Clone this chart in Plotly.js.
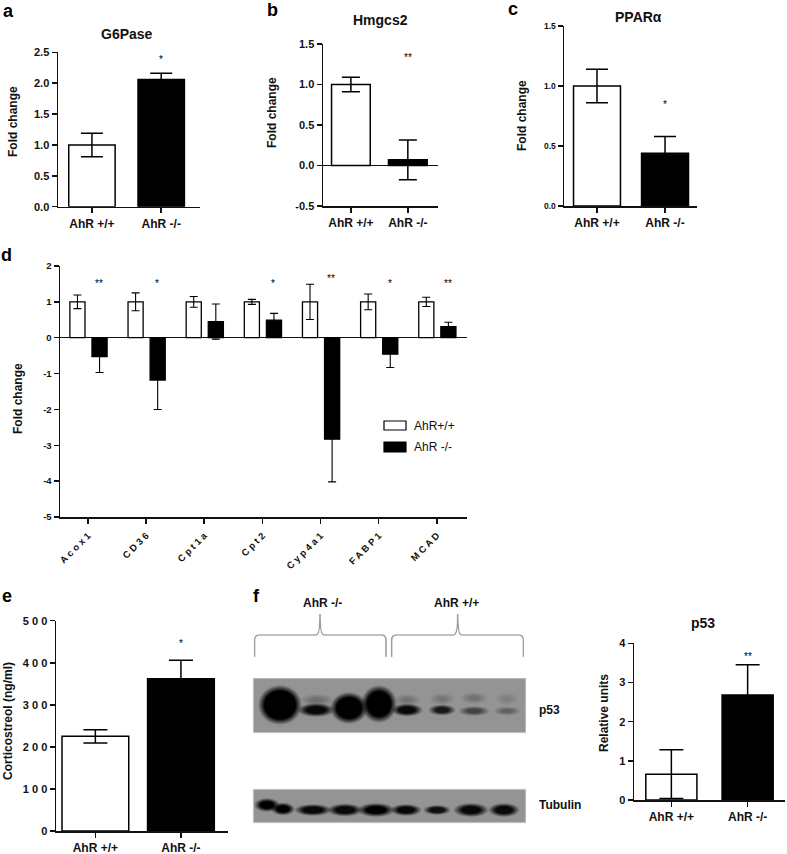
<!DOCTYPE html>
<html><head><meta charset="utf-8">
<script src="https://cdn.plot.ly/plotly-3.0.1.min.js"></script>
<style>html,body{margin:0;padding:0;background:#fff}#chart{width:787px;height:854px}</style>
</head><body><div id="chart"></div>
<script>
// ---------------- DATA ----------------
const groups = ['AhR +/+', 'AhR -/-'];
// a  G6Pase
const g6paseMean = [1.00, 2.06];
const g6paseErr  = [0.19, 0.10];
const g6paseStar = ['', '*'];
const g6paseStarY = [null, 2.38];
// b  Hmgcs2
const hmgcs2Mean = [1.00, 0.07];
const hmgcs2Err  = [0.09, 0.245];
const hmgcs2Star = ['', '**'];
const hmgcs2StarY = [null, 1.33];
// c  PPARalpha
const pparaMean = [1.00, 0.44];
const pparaErr  = [0.14, 0.14];
const pparaStar = ['', '*'];
const pparaStarY = [null, 0.85];
// d  fatty-acid oxidation genes
const genes = ['Acox1', 'CD36', 'Cpt1a', 'Cpt2', 'Cyp4a1', 'FABP1', 'MCAD'];
const wtMean = [1.00, 1.00, 1.00, 1.00, 1.00, 1.00, 1.00];
const wtErr  = [0.19, 0.25, 0.15, 0.07, 0.49, 0.22, 0.13];
const koMean = [-0.53, -1.18, 0.45, 0.49, -2.83, -0.46, 0.31];
const koErr  = [0.44, 0.82, 0.49, 0.19, 1.19, 0.37, 0.12];
const geneStars = ['**', '*', '', '*', '**', '*', '**'];
const geneStarY = [1.52, 1.52, null, 1.52, 1.66, 1.52, 1.52];
const legendNames = ['AhR+/+', 'AhR -/-'];
// e  Corticosterone
const corticoMean = [225, 362];
const corticoErr  = [16, 44];
const corticoStar = ['', '*'];
const corticoStarY = [null, 445];
const corticoTicks = [0, 100, 200, 300, 400, 500];
// f  p53 densitometry
const p53Mean = [0.66, 2.68];
const p53Err  = [0.62, 0.77];
const p53Star = ['', '**'];
const p53StarY = [null, 3.67];
const blotGroups = ['AhR -/-', 'AhR +/+'];

// ---------------- LAYOUT HELPERS ----------------
const W = 787, H = 854;
const FONT = 'Liberation Sans, Arial, Helvetica, sans-serif';
const BLK = '#000';
const xd = (a, b) => [a / W, b / W];
const yd = (top, bot) => [1 - bot / H, 1 - top / H];
const PX = x => x / W, PY = y => 1 - y / H;
const spaced = s => s.split('').join(' ');

function yax(domain, anchor, extra) {
  return Object.assign({
    domain: domain, anchor: anchor, showline: true, linecolor: '#111', linewidth: 1.5,
    ticks: 'outside', ticklen: 5, tickwidth: 1.5, tickcolor: '#111', showgrid: false,
    zeroline: false, fixedrange: true,
    tickfont: {family: FONT, size: 11, color: '#111', weight: 'bold'}
  }, extra || {});
}
function xax(domain, anchor, range, extra) {
  return Object.assign({
    domain: domain, anchor: anchor, type: 'category', range: range, showline: true,
    linecolor: '#111', linewidth: 1.5, ticks: 'outside', ticklen: 5, tickwidth: 1.5,
    tickcolor: '#111', showgrid: false, zeroline: false, fixedrange: true,
    tickfont: {family: FONT, size: 12, color: '#111', weight: 'bold'}
  }, extra || {});
}
function pairBar(xa, ya, mean, err, width, cap) {
  return {
    type: 'bar', x: groups, y: mean, xaxis: xa, yaxis: ya, width: width,
    marker: {color: ['#ffffff', '#000000'], line: {color: '#000', width: 1.5}},
    error_y: {type: 'data', array: err, visible: true, color: BLK, thickness: 1.5, width: cap},
    showlegend: false, hoverinfo: 'x+y'
  };
}
function ann(text, x, y, opt) {
  return Object.assign({text: text, xref: 'paper', yref: 'paper', x: PX(x), y: PY(y),
    xanchor: 'center', yanchor: 'middle', showarrow: false,
    font: {family: FONT, size: 12, color: '#111', weight: 'bold'}}, opt || {});
}
function starAnns(xa, ya, cats, stars, ys, xshift) {
  const out = [];
  stars.forEach((s, i) => {
    if (!s) return;
    out.push({text: s, xref: xa, yref: ya, x: cats[i], y: ys[i], xshift: xshift || 0,
      showarrow: false, xanchor: 'center', yanchor: 'middle',
      font: {family: FONT, size: 10, color: '#000'}});
  });
  return out;
}

// ---------------- TRACES ----------------
const traces = [
  pairBar('x', 'y', g6paseMean, g6paseErr, 0.67, 11),
  pairBar('x2', 'y2', hmgcs2Mean, hmgcs2Err, 0.68, 9),
  pairBar('x3', 'y3', pparaMean, pparaErr, 0.69, 11),
  {type: 'bar', name: legendNames[0], x: genes, y: wtMean, xaxis: 'x4', yaxis: 'y4',
   width: 0.26, offset: -0.31, marker: {color: '#fff', line: {color: '#000', width: 1.3}},
   error_y: {type: 'data', array: wtErr, color: BLK, thickness: 1.1, width: 4}, showlegend: false},
  {type: 'bar', name: legendNames[1], x: genes, y: koMean, xaxis: 'x4', yaxis: 'y4',
   width: 0.26, offset: 0.07, marker: {color: '#000', line: {color: '#000', width: 1.3}},
   error_y: {type: 'data', array: koErr, color: BLK, thickness: 1.1, width: 4}, showlegend: false},
  pairBar('x5', 'y5', corticoMean, corticoErr, 0.78, 12),
  pairBar('x6', 'y6', p53Mean, p53Err, 0.67, 12)
];

// ---------------- BLOT IMAGE (canvas) ----------------
function blotImage() {
  const S = 3, ox = 250, oy = 606, w = 280, h = 224;
  const c = document.createElement('canvas');
  c.width = w * S; c.height = h * S;
  const g = c.getContext('2d');
  g.scale(S, S);
  g.translate(-ox, -oy);
  function bracket(x0, x1, xm, yTop, yH, yEnd) {
    const r = 5;
    g.beginPath();
    g.moveTo(x0, yEnd); g.lineTo(x0, yH + r);
    g.quadraticCurveTo(x0, yH, x0 + r, yH);
    g.lineTo(xm - 4, yH);
    g.quadraticCurveTo(xm, yH, xm, yTop);
    g.quadraticCurveTo(xm, yH, xm + 4, yH);
    g.lineTo(x1 - r, yH);
    g.quadraticCurveTo(x1, yH, x1, yH + r);
    g.lineTo(x1, yEnd);
    g.strokeStyle = '#8c8c8c'; g.lineWidth = 1.2; g.stroke();
  }
  bracket(254.7, 386, 320, 614, 635, 657);
  bracket(391.7, 523.3, 457.7, 614, 635, 657);
  function membrane(y0, y1) {
    g.fillStyle = '#949494'; g.fillRect(253, y0, 273, y1 - y0);
    g.strokeStyle = '#b8b8b8'; g.lineWidth = 1; g.strokeRect(253.5, y0 + 0.5, 272, y1 - y0 - 1);
  }
  membrane(678, 733);
  membrane(789, 823);
  function band(cx, cy, rx, ry, a, core) {
    g.save();
    g.translate(cx, cy);
    g.scale(rx, ry);
    const gr = g.createRadialGradient(0, 0, 0, 0, 0, 1);
    gr.addColorStop(0, 'rgba(0,0,0,' + a + ')');
    gr.addColorStop(core, 'rgba(0,0,0,' + a + ')');
    gr.addColorStop(1, 'rgba(0,0,0,0)');
    g.fillStyle = gr;
    g.beginPath(); g.arc(0, 0, 1, 0, Math.PI * 2); g.fill();
    g.restore();
  }
  const p53Bands = [
    [280, 705, 22, 20, 1, 0.7],
    [317, 700, 17, 6, 0.25, 0.3], [316, 710, 19, 7, 0.95, 0.5],
    [349, 708, 19, 16, 1, 0.65],
    [379, 704, 18, 19, 1, 0.65],
    [407, 700, 14, 6, 0.22, 0.3], [407, 710, 16, 6.5, 0.95, 0.5],
    [442, 699, 13, 6, 0.2, 0.3], [442, 710, 14, 5.5, 0.85, 0.45],
    [474, 698, 14, 6, 0.22, 0.3], [474, 711, 16, 5, 0.55, 0.4],
    [507, 699, 12, 6, 0.14, 0.3], [507, 711, 14, 4.5, 0.35, 0.35]
  ];
  p53Bands.forEach(b => band(...b));
  const tubBands = [
    [267, 805, 13, 7, 1, 0.5], [283, 809, 12, 6.5, 1, 0.5],
    [313, 810, 19, 6, 0.95, 0.5], [345, 810, 18, 6.5, 0.95, 0.5],
    [376, 810, 19, 7, 1, 0.5], [406, 810, 16, 6, 0.95, 0.5],
    [437, 810, 14, 5, 0.9, 0.5], [471, 810, 18, 7, 0.95, 0.5],
    [504, 810, 16, 7, 0.95, 0.5]
  ];
  tubBands.forEach(b => band(...b));
  return {src: c.toDataURL('image/png'), x: PX(ox), y: PY(oy), sizex: w / W, sizey: h / H};
}
const blot = blotImage();

// ---------------- LAYOUT ----------------
const titleFont = {family: FONT, size: 14, color: '#111', weight: 'bold'};
const letterFont = {family: FONT, size: 18, color: '#000', weight: 'bold'};
const ytFont = {family: FONT, size: 12, color: '#111', weight: 'bold'};

const annotations = [
  ann('a', 8, 11, {font: letterFont}),
  ann('b', 272, 10, {font: letterFont}),
  ann('c', 513, 9, {font: letterFont}),
  ann('d', 6, 255, {font: letterFont}),
  ann('e', 7, 596, {font: letterFont}),
  ann('f', 256, 596, {font: letterFont}),
  ann('G6Pase', 127, 34, {font: titleFont}),
  ann('Hmgcs2', 380, 20, {font: titleFont}),
  ann('PPAR\u03b1', 638, 17, {font: titleFont}),
  ann('p53', 703, 623, {font: titleFont}),
  ann('Fold change', 13, 122, {textangle: -90, font: ytFont}),
  ann('Fold change', 272, 113, {textangle: -90, font: ytFont}),
  ann('Fold change', 522, 116, {textangle: -90, font: ytFont}),
  ann('Fold change', 18, 399, {textangle: -90, font: ytFont}),
  ann('Corticostreol (ng/ml)', 8, 721, {textangle: -90, font: ytFont}),
  ann('Relative units', 604, 713, {textangle: -90, font: ytFont}),
  ann(legendNames[0], 412, 425.5, {xanchor: 'left', font: {family: FONT, size: 12, color: '#111'}}),
  ann(legendNames[1], 412, 447, {xanchor: 'left', font: {family: FONT, size: 12, color: '#111'}}),
  ann(blotGroups[0], 322, 603),
  ann(blotGroups[1], 456, 603),
  ann('p53', 537, 710, {xanchor: 'left'}),
  ann('Tubulin', 537, 805, {xanchor: 'left'})
].concat(
  starAnns('x', 'y', groups, g6paseStar, g6paseStarY),
  starAnns('x2', 'y2', groups, hmgcs2Star, hmgcs2StarY),
  starAnns('x3', 'y3', groups, pparaStar, pparaStarY),
  starAnns('x4', 'y4', genes, geneStars, geneStarY, 11),
  starAnns('x5', 'y5', groups, corticoStar, corticoStarY),
  starAnns('x6', 'y6', groups, p53Star, p53StarY)
);

const shapes = [
  {type: 'rect', xref: 'paper', yref: 'paper', x0: PX(384), x1: PX(406), y0: PY(430), y1: PY(421),
   line: {color: '#000', width: 1.2}, fillcolor: '#fff'},
  {type: 'rect', xref: 'paper', yref: 'paper', x0: PX(384), x1: PX(406), y0: PY(452), y1: PY(442),
   line: {color: '#000', width: 1.2}, fillcolor: '#000'}
];

const layout = {
  width: W, height: H, margin: {l: 0, r: 0, t: 0, b: 0},
  paper_bgcolor: '#fff', plot_bgcolor: 'rgba(0,0,0,0)',
  barmode: 'overlay', showlegend: false,
  font: {family: FONT, color: '#111'},
  xaxis: xax(xd(58, 200), 'y', [-0.49, 1.56]),
  yaxis: yax(yd(52.3, 206.7), 'x', {range: [0, 2.5], tickvals: [0, 0.5, 1, 1.5, 2, 2.5], tickformat: '.1f'}),
  xaxis2: xax(xd(323, 438), 'y2', [-0.49, 1.53]),
  yaxis2: yax(yd(44, 206), 'x2', {range: [-0.5, 1.5], tickvals: [-0.5, 0, 0.5, 1, 1.5],
    ticktext: ['-0.5', '0.0', '0.5', '1.0', '1.5'],
    zeroline: true, zerolinecolor: '#111', zerolinewidth: 1.5}),
  xaxis3: xax(xd(564, 697), 'y3', [-0.485, 1.47]),
  yaxis3: yax(yd(26, 206), 'x3', {range: [0, 1.5], tickvals: [0, 0.5, 1, 1.5], tickformat: '.1f',
    tickfont: {family: FONT, size: 8.5, color: '#111', weight: 'bold'}}),
  xaxis4: xax(xd(60, 467), 'y4', [-0.48, 6.52], {tickangle: -45, tickvals: genes,
    ticktext: genes.map(spaced), ticklabelstandoff: 3,
    tickfont: {family: FONT, size: 9.5, color: '#111', weight: 'bold'}}),
  yaxis4: yax(yd(266, 517), 'x4', {range: [-5, 2], tickvals: [-5, -4, -3, -2, -1, 0, 1, 2],
    ticktext: ['-5', '-4', '-3', '-2', '-1', '0', '1', '2'],
    tickfont: {family: FONT, size: 9.5, color: '#111', weight: 'bold'},
    zeroline: true, zerolinecolor: '#111', zerolinewidth: 1.5}),
  xaxis5: xax(xd(56, 228), 'y5', [-0.46, 1.55]),
  yaxis5: yax(yd(620.7, 831), 'x5', {range: [0, 500], tickvals: corticoTicks,
    ticktext: corticoTicks.map(v => spaced(String(v)))}),
  xaxis6: xax(xd(634, 785), 'y6', [-0.49, 1.49]),
  yaxis6: yax(yd(643.3, 800), 'x6', {range: [0, 4], tickvals: [0, 1, 2, 3, 4]}),
  annotations: annotations,
  shapes: shapes,
  images: [{source: blot.src, xref: 'paper', yref: 'paper', x: blot.x, y: blot.y,
    sizex: blot.sizex, sizey: blot.sizey, xanchor: 'left', yanchor: 'top',
    sizing: 'stretch', layer: 'below'}]
};

Plotly.newPlot('chart', traces, layout, {staticPlot: true, displayModeBar: false});
</script>
</body></html>
